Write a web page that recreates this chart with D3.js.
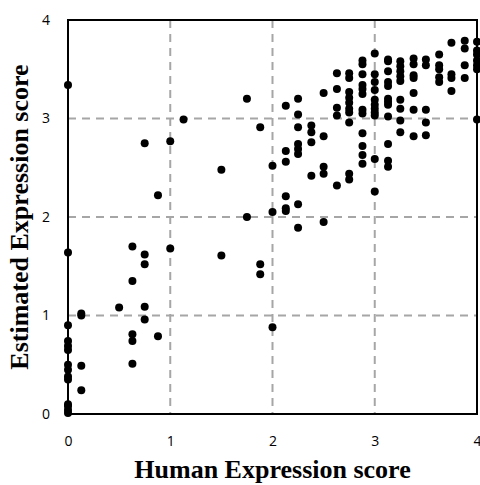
<!DOCTYPE html>
<html>
<head>
<meta charset="utf-8">
<script src="https://cdn.jsdelivr.net/npm/d3@7"></script>
<style>
  body { margin: 0; background: #fff; }
  .tick text { font-family: "Open Sans", sans-serif; font-size: 14px; fill: #000; }
  .axisTitle { font-family: "Liberation Serif", "Times New Roman", serif; font-weight: bold; font-size: 26px; fill: #000; }
</style>
</head>
<body>
<div class="chart"></div>
<script>
var svgWidth = 480;
var svgHeight = 485;

var margin = { top: 20, right: 3, bottom: 71, left: 68 };
var width = svgWidth - margin.left - margin.right;
var height = svgHeight - margin.top - margin.bottom;

// tick labels
var xTicks = [0, 1, 2, 3, 4];
var yTicks = [0, 1, 2, 3, 4];

// human score (x) and estimated score (y)
var humanScore = [
  0, 0, 0, 0, 0, 0, 0, 0, 0, 0, 0, 0, 0, 0,
  0.13, 0.13, 0.13, 0.13,
  0.5,
  0.63, 0.63, 0.63, 0.63, 0.63,
  0.75, 0.75, 0.75, 0.75, 0.75,
  0.88, 0.88,
  1, 1,
  1.13,
  1.5, 1.5,
  1.75, 1.75,
  1.88, 1.88, 1.88,
  2, 2, 2,
  2.13, 2.13, 2.13, 2.13, 2.13, 2.13,
  2.25, 2.25, 2.25, 2.25, 2.25, 2.25, 2.25, 2.25,
  2.38, 2.38, 2.38, 2.38,
  2.5, 2.5, 2.5, 2.5, 2.5,
  2.63, 2.63, 2.63, 2.63, 2.63,
  2.75, 2.75, 2.75, 2.75, 2.75, 2.75, 2.75, 2.75, 2.75, 2.75,
  2.88, 2.88, 2.88, 2.88, 2.88, 2.88, 2.88, 2.88, 2.88, 2.88, 2.88, 2.88,
  3, 3, 3, 3, 3, 3, 3, 3, 3, 3, 3,
  3.13, 3.13, 3.13, 3.13, 3.13, 3.13, 3.13, 3.13, 3.13, 3.13, 3.13, 3.13,
  3.25, 3.25, 3.25, 3.25, 3.25, 3.25, 3.25, 3.25, 3.25,
  3.38, 3.38, 3.38, 3.38, 3.38, 3.38, 3.38,
  3.5, 3.5, 3.5, 3.5, 3.5,
  3.63, 3.63, 3.63, 3.63, 3.63,
  3.75, 3.75, 3.75, 3.75,
  3.88, 3.88, 3.88, 3.88,
  4, 4, 4, 4, 4, 4, 4
];
var estimatedScore = [
  3.34, 1.64, 0.90, 0.74, 0.69, 0.65, 0.50, 0.45, 0.38, 0.35, 0.10, 0.08, 0.04, 0.01,
  1.02, 1.00, 0.49, 0.24,
  1.08,
  1.70, 1.35, 0.81, 0.74, 0.51,
  2.75, 1.62, 1.52, 1.09, 0.96,
  2.22, 0.79,
  2.77, 1.68,
  2.99,
  2.48, 1.61,
  3.20, 2.00,
  2.91, 1.52, 1.42,
  2.52, 2.05, 0.88,
  3.13, 2.67, 2.56, 2.21, 2.09, 2.06,
  3.20, 3.04, 2.91, 2.74, 2.69, 2.64, 2.13, 1.89,
  2.93, 2.86, 2.76, 2.42,
  3.26, 2.82, 2.51, 2.44, 1.95,
  3.46, 3.30, 3.11, 3.03, 2.32,
  3.46, 3.41, 3.27, 3.21, 3.16, 3.10, 3.06, 2.96, 2.44, 2.38,
  3.59, 3.55, 3.45, 3.34, 3.30, 3.25, 3.09, 3.05, 2.85, 2.72, 2.63, 2.54,
  3.66, 3.45, 3.37, 3.29, 3.19, 3.14, 3.10, 3.06, 3.03, 2.59, 2.26,
  3.60, 3.58, 3.48, 3.37, 3.33, 3.20, 3.17, 3.14, 3.02, 2.74, 2.57, 2.51,
  3.58, 3.53, 3.48, 3.43, 3.38, 3.19, 3.10, 2.98, 2.86,
  3.61, 3.55, 3.44, 3.41, 3.26, 3.09, 2.82,
  3.60, 3.54, 3.09, 2.96, 2.83,
  3.65, 3.54, 3.50, 3.42, 3.37,
  3.77, 3.45, 3.41, 3.28,
  3.79, 3.71, 3.54, 3.41,
  3.78, 3.69, 3.65, 3.59, 3.54, 3.50, 2.99
];

var svg = d3.select(".chart")
  .append("svg")
  .attr("width", svgWidth)
  .attr("height", svgHeight);

var chartGroup = svg.append("g")
  .attr("transform", `translate(${margin.left}, ${margin.top})`);

var xScale = d3.scaleLinear().domain([0, 4]).range([0, width]);
var yScale = d3.scaleLinear().domain([0, 4]).range([height, 0]);

// dashed grid
chartGroup.selectAll(".vgrid")
  .data(xTicks.slice(1, -1))
  .enter()
  .append("line")
  .attr("x1", d => xScale(d)).attr("x2", d => xScale(d))
  .attr("y1", 0).attr("y2", height)
  .attr("stroke", "#a6a6a6")
  .attr("stroke-width", 2)
  .attr("stroke-dasharray", "8,6");

chartGroup.selectAll(".hgrid")
  .data(yTicks.slice(1, -1))
  .enter()
  .append("line")
  .attr("x1", 0).attr("x2", width)
  .attr("y1", d => yScale(d)).attr("y2", d => yScale(d))
  .attr("stroke", "#a6a6a6")
  .attr("stroke-width", 2)
  .attr("stroke-dasharray", "8,6");

// axes (labels only, frame drawn below)
var bottomAxis = d3.axisBottom(xScale).tickValues(xTicks).tickFormat(d3.format("d")).tickSize(0).tickPadding(22);
var leftAxis = d3.axisLeft(yScale).tickValues(yTicks).tickFormat(d3.format("d")).tickSize(0).tickPadding(18);

chartGroup.append("g")
  .attr("transform", `translate(0, ${height})`)
  .call(bottomAxis)
  .call(g => g.select(".domain").remove());

chartGroup.append("g")
  .call(leftAxis)
  .call(g => g.select(".domain").remove());

// frame
chartGroup.append("rect")
  .attr("x", 0).attr("y", 0)
  .attr("width", width).attr("height", height)
  .attr("fill", "none")
  .attr("stroke", "#000")
  .attr("stroke-width", 2);

// dots
chartGroup.selectAll("circle")
  .data(humanScore)
  .enter()
  .append("circle")
  .attr("cx", d => xScale(d))
  .attr("cy", (d, i) => yScale(estimatedScore[i]))
  .attr("r", 4)
  .attr("fill", "#000");

// axis titles
chartGroup.append("text")
  .attr("class", "axisTitle")
  .attr("text-anchor", "middle")
  .attr("x", width / 2)
  .attr("y", height + 64)
  .text("Human Expression score");

chartGroup.append("text")
  .attr("class", "axisTitle")
  .attr("text-anchor", "middle")
  .attr("transform", `translate(${-40}, ${height / 2}) rotate(-90)`)
  .text("Estimated Expression score");
</script>
</body>
</html>
